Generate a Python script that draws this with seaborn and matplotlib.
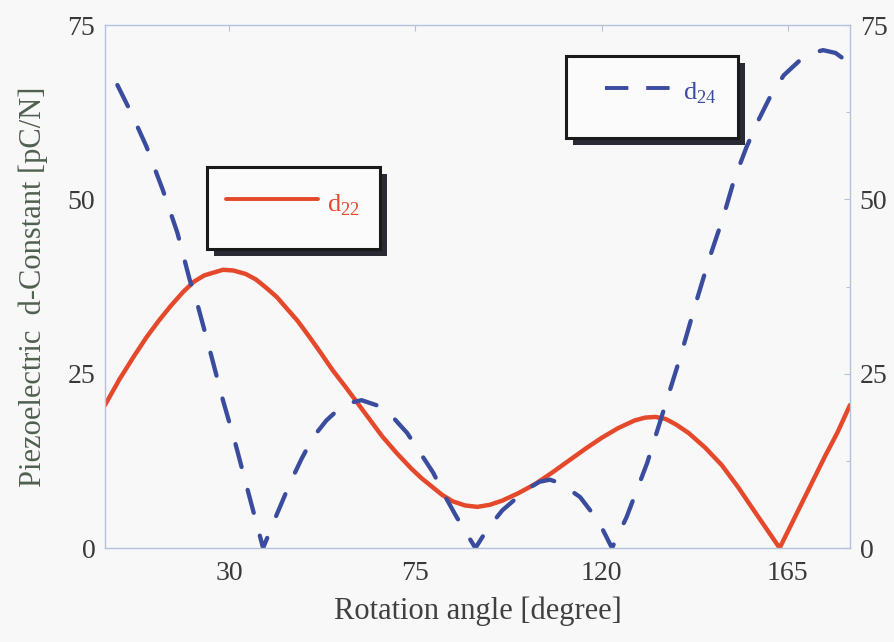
import matplotlib
matplotlib.use("Agg")
import matplotlib.pyplot as plt
import seaborn as sns
from matplotlib.patches import Rectangle
from matplotlib.lines import Line2D

# values
angle_d22 = [0, 3.5, 7, 10, 13, 16, 19, 21.5, 24, 28.5, 31, 34, 36.5, 39, 41.5, 44,
             46.5, 49, 52, 55, 58, 61, 64, 67, 70.5, 74, 76.5, 79, 81.5, 84, 87, 90,
             93, 96, 100, 104, 108, 112, 116, 120, 124, 128, 130.5, 133, 135.5, 138,
             141, 145, 149, 153, 157, 160, 163, 166, 169, 171.5, 174, 177, 180]
d22 = [20.5, 24.2, 27.5, 30.2, 32.6, 34.8, 36.8, 38.2, 39.1, 39.9, 39.8, 39.3, 38.5,
       37.3, 36.0, 34.3, 32.6, 30.6, 28.1, 25.5, 23.2, 20.8, 18.4, 16.0, 13.6, 11.4,
       10.0, 8.8, 7.6, 6.7, 6.1, 5.9, 6.2, 6.8, 7.9, 9.2, 10.8, 12.5, 14.2, 15.8,
       17.2, 18.3, 18.7, 18.8, 18.5, 17.7, 16.5, 14.4, 11.9, 8.7, 5.2, 2.6, 0.0,
       3.6, 7.2, 10.2, 13.2, 16.6, 20.5]

angle_d24 = [3, 6.5, 10, 14, 17.5, 20.5, 22.5, 25.5, 28.5, 31.5, 34.3, 38.2, 41.5,
             44.7, 47.5, 50.3, 53.5, 56.8, 59, 62, 66, 69.5, 73, 76, 79.3, 82, 85,
             89.5, 92.5, 96, 99.5, 102.7, 105, 107.5, 110, 114.8, 117.5, 120.3, 122.5,
             126, 128.5, 131, 135, 139, 143, 146, 149.4, 152, 155, 158, 160.7, 164,
             168, 171, 173.5, 176.5, 179.5]
d24 = [66.4, 62.2, 57.6, 51.3, 45.2, 38.4, 34.6, 28.0, 21.2, 15.0, 8.7, 0.0, 4.8,
       9.3, 12.8, 15.9, 18.3, 20.1, 20.8, 21.2, 20.4, 18.8, 16.5, 13.8, 10.8, 7.6,
       4.4, 0.0, 2.8, 5.4, 7.2, 8.7, 9.5, 9.8, 9.3, 7.3, 5.2, 2.6, 0.0, 4.4, 8.3,
       12.2, 19.8, 27.4, 35.6, 41.5, 47.5, 52.8, 57.5, 61.5, 64.7, 67.8, 70.0, 71.0,
       71.4, 71.0, 69.7]

x_ticks = [30, 75, 120, 165]
y_ticks = [0, 25, 50, 75]

red = "#E5492C"
blue = "#3A4C9E"
bg = "#F8F8F8"
spine_col = "#B3C1DC"

sns.set_theme(style="white")
plt.rcParams['font.family'] = ['Liberation Serif', 'DejaVu Serif']
plt.rcParams['mathtext.fontset'] = 'custom'
plt.rcParams['mathtext.rm'] = 'Liberation Serif'

fig = plt.figure(figsize=(8.95, 6.42), dpi=100, facecolor=bg)
ax = fig.add_axes([0.1173, 0.1464, 0.8324, 0.8146], facecolor=bg)

sns.lineplot(x=angle_d22, y=d22, color=red, linewidth=3.2, ax=ax,
             solid_capstyle='round', solid_joinstyle='round')
sns.lineplot(x=angle_d24, y=d24, color=blue, linewidth=3.1, ax=ax,
             linestyle=(0, (5.5, 5.5)), dash_capstyle='round')

ax.set_xlim(0, 180)
ax.set_ylim(0, 75)
ax.set_xticks(x_ticks)
ax.set_yticks(y_ticks)
ax.set_yticks([12.5, 37.5, 62.5], minor=True)

for s in ax.spines.values():
    s.set_color(spine_col)
    s.set_linewidth(1.0)

ax.tick_params(axis='both', which='both', direction='in', color=spine_col,
               top=True, right=True, labelright=True, labelsize=20,
               labelcolor='#3A3A3A')
ax.tick_params(which='major', length=4, width=0.8)
ax.tick_params(which='minor', length=3, width=0.8)
ax.tick_params(axis='x', pad=9)
ax.tick_params(axis='y', pad=7)

ax.set_xlabel('Rotation angle [degree]', fontsize=22, color='#404040', labelpad=8)
ax.set_ylabel('Piezoelectric  d-Constant [pC/N]', fontsize=22, color='#506050',
              labelpad=14)


# legend boxes with a drop shadow, drawn in axes coordinates
def legend_box(x0, y0, w, h, color, dashed, label, lx0, lx1, ly, tx, ty):
    sx = 7 / 745
    sy = 7 / 523
    ax.add_patch(Rectangle((x0 + sx, y0 - sy), w, h, transform=ax.transAxes,
                           facecolor='#2A2A35', edgecolor='none', zorder=5))
    ax.add_patch(Rectangle((x0, y0), w, h, transform=ax.transAxes,
                           facecolor='#FBFBFB', edgecolor='#1A1A1A',
                           linewidth=2.2, zorder=6))
    ln = Line2D([lx0, lx1], [ly, ly], transform=ax.transAxes, color=color,
                linewidth=2.8, zorder=7)
    if dashed:
        ln.set_linestyle((0, (6, 4.6)))
        ln.set_dash_capstyle('butt')
    ax.add_line(ln)
    ax.text(tx, ty, label, transform=ax.transAxes, color=color, fontsize=19,
            va='baseline', ha='left', zorder=8)


legend_box(0.137, 0.572, 0.232, 0.156, red, False, r'd$_{\mathregular{22}}$',
           0.162, 0.286, 0.667, 0.298, 0.644)
legend_box(0.619, 0.784, 0.231, 0.157, blue, True, r'd$_{\mathregular{24}}$',
           0.671, 0.761, 0.880, 0.776, 0.857)

fig.savefig('out.png', dpi=100, facecolor=bg)
